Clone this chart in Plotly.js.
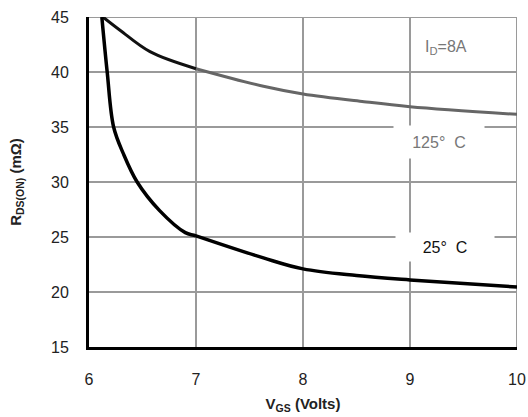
<!DOCTYPE html>
<html><head><meta charset="utf-8">
<script src="https://cdn.plot.ly/plotly-3.0.1.min.js"></script>
<style>html,body{margin:0;padding:0;background:#fff}#c{width:528px;height:417px}</style>
</head><body><div id="c"></div>
<script>
const vgs125 = [6.13, 6.29, 6.57, 7.0, 7.63, 8.0, 8.57, 9.0, 10.0];
const r125   = [45.0, 43.8, 41.85, 40.3, 38.7, 38.0, 37.3, 36.85, 36.15];
const vgs25  = [6.12, 6.17, 6.23, 6.32, 6.45, 6.66, 6.9, 7.0, 7.63, 8.0, 8.5, 9.0, 10.0];
const r25    = [45.0, 40.0, 35.0, 32.6, 30.0, 27.4, 25.4, 25.1, 23.1, 22.1, 21.5, 21.1, 20.45];
const xTicks = [6, 7, 8, 9, 10];
const yTicks = [15, 20, 25, 30, 35, 40, 45];

const traces = [
  {x: vgs125.slice(3), y: r125.slice(3), mode: 'lines', line: {color: '#666666', width: 3, shape: 'spline', smoothing: 1}, name: '125°C'},
  {x: vgs125.slice(0, 4), y: r125.slice(0, 4), mode: 'lines', line: {color: '#111111', width: 3, shape: 'spline', smoothing: 1}, name: '125°C start'},
  {x: vgs25, y: r25, mode: 'lines', line: {color: '#000000', width: 3.5, shape: 'spline', smoothing: 1}, name: '25°C'}
];
const FAM = 'Arial, Liberation Sans, sans-serif';
const font = {family: FAM, size: 16, color: '#222'};
const layout = {
  width: 528, height: 417,
  margin: {l: 89, r: 11, t: 17, b: 70},
  paper_bgcolor: '#fff', plot_bgcolor: '#fff',
  showlegend: false,
  font: font,
  xaxis: {
    range: [6, 10], tickvals: xTicks, ticktext: xTicks.map(String),
    showgrid: true, gridcolor: '#9a9a9a', gridwidth: 2, zeroline: false,
    showline: true, linecolor: '#000', linewidth: 3, ticks: '', ticklen: 0,
    ticklabelstandoff: 16,
    tickfont: font,
    title: {text: '<b>V<sub>GS</sub> (Volts)</b>', font: {family: FAM, size: 15, color: '#222'}, standoff: 12}
  },
  yaxis: {
    range: [15, 45], tickvals: yTicks, ticktext: yTicks.map(String),
    showgrid: true, gridcolor: '#9a9a9a', gridwidth: 2, zeroline: false,
    showline: true, linecolor: '#000', linewidth: 3, ticks: '', ticklen: 0,
    ticklabelstandoff: 14,
    tickfont: font,
    title: {text: '<b>R<sub>DS(ON)</sub> (mΩ)</b>', font: {family: FAM, size: 15, color: '#222'}, standoff: 26}
  },
  shapes: [
    {type: 'line', xref: 'x', yref: 'y', x0: 6, x1: 10, y0: 45, y1: 45, line: {color: '#9a9a9a', width: 2}, layer: 'below'},
    {type: 'line', xref: 'x', yref: 'y', x0: 10, x1: 10, y0: 15, y1: 45, line: {color: '#9a9a9a', width: 2}, layer: 'below'}
  ],
  annotations: [
    {x: 9.34, y: 42.2, xref: 'x', yref: 'y', text: 'I<sub>D</sub>=8A', showarrow: false, font: {family: FAM, size: 16, color: '#777'}},
    {x: 9.27, y: 33.6, xref: 'x', yref: 'y', text: '125°  C', showarrow: false, bgcolor: '#fff', width: 88, height: 30, font: {family: FAM, size: 16, color: '#777'}},
    {x: 9.33, y: 24.1, xref: 'x', yref: 'y', text: '25°  C', showarrow: false, bgcolor: '#fff', width: 96, height: 26, font: {family: FAM, size: 16, color: '#111'}}
  ]
};
Plotly.newPlot('c', traces, layout, {displayModeBar: false, staticPlot: true});
</script></body></html>
